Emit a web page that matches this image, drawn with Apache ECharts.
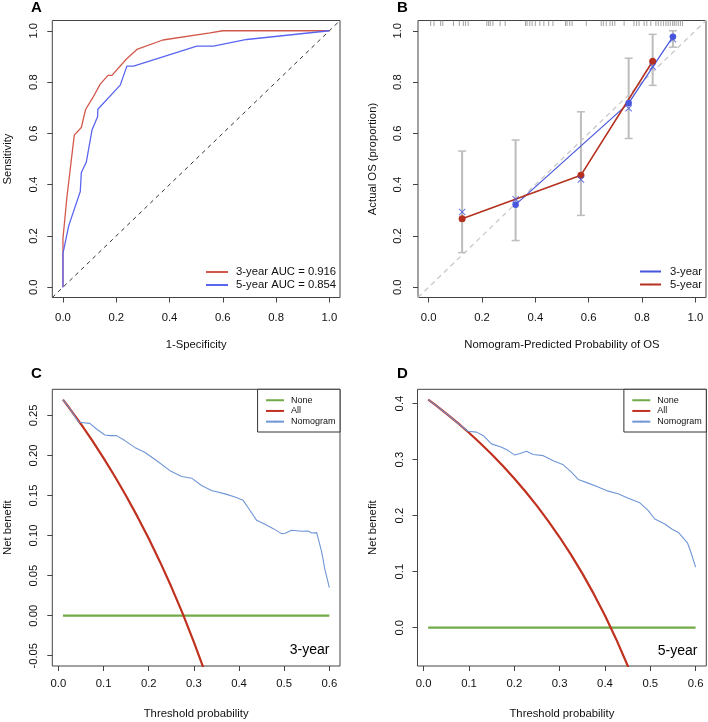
<!DOCTYPE html>
<html><head><meta charset="utf-8">
<script src="https://cdn.jsdelivr.net/npm/echarts@6/dist/echarts.min.js"></script>
<style>html,body{margin:0;padding:0;background:#fff}#c{width:708px;height:722px}</style>
</head><body><div id="c"></div>
<script>
// ---------- Panel A: ROC ----------
const rocTicks = [0, 0.2, 0.4, 0.6, 0.8, 1.0];
const roc3yr = [[0,0],[0,0.19],[0.015,0.353],[0.0425,0.593],[0.069,0.623],[0.085,0.693],[0.1125,0.74],[0.14,0.792],[0.169,0.826],[0.184,0.826],[0.2375,0.889],[0.2775,0.927],[0.375,0.964],[0.5525,0.992],[0.6,1.0],[1,1]];
const roc5yr = [[0,0],[0,0.132],[0.021,0.236],[0.024,0.247],[0.065,0.373],[0.069,0.447],[0.0875,0.487],[0.109,0.613],[0.13,0.665],[0.131,0.694],[0.215,0.788],[0.24,0.862],[0.265,0.862],[0.5025,0.94],[0.565,0.94],[0.69,0.966],[1,1]];
const rocDiag = [[-0.04,-0.04],[1.04,1.04]];
const rocNames = ['3-year AUC = 0.916', '5-year AUC = 0.854'];

// ---------- Panel B: calibration ----------
const calX3 = [0.326, 0.750, 0.916];
const calObs3 = [0.322, 0.718, 0.977];
const calCor3 = [0.343, 0.698, 0.967];
const calLo3 = [0.182, 0.580, 0.936];
const calHi3 = [0.574, 0.893, 1.000];
const calX5 = [0.1255, 0.571, 0.840];
const calObs5 = [0.2675, 0.437, 0.881];
const calCor5 = [0.2935, 0.420, 0.860];
const calLo5 = [0.135, 0.280, 0.787];
const calHi5 = [0.531, 0.684, 0.986];
const calRug = [0.0075,0.020,0.045,0.053,0.093,0.115,0.130,0.138,0.148,0.218,0.225,0.231,0.241,0.268,0.287,0.363,0.369,0.379,0.388,0.400,0.417,0.432,0.450,0.466,0.513,0.519,0.529,0.538,0.591,0.647,0.655,0.666,0.680,0.689,0.698,0.733,0.770,0.780,0.789,0.808,0.818,0.833,0.852,0.861,0.871,0.881,0.890,0.898,0.906,0.915,0.921,0.928,0.936,0.944,0.952];
const calDiag = [[-0.04,-0.04],[1.04,1.04]];

// ---------- Panels C/D: decision curves ----------
const dcaXTicks = [0, 0.1, 0.2, 0.3, 0.4, 0.5, 0.6];
const dcaYTicksC = [-0.05, 0, 0.05, 0.10, 0.15, 0.20, 0.25];
const dcaYTicksD = [0, 0.1, 0.2, 0.3, 0.4];
const noneLine = [[0.01,0],[0.6,0]];
const allT = [0.01,0.025,0.05,0.075,0.1,0.125,0.15,0.175,0.2,0.225,0.25,0.275,0.3,0.325,0.35,0.375,0.4,0.425,0.45,0.475];
const allC = [0.2697,0.2585,0.2389,0.2184,0.1967,0.1737,0.1494,0.1236,0.0962,0.0671,0.0360,0.0028,-0.0329,-0.0711,-0.1123,-0.16,-0.21,-0.26,-0.31,-0.37];
const allD = [0.4071,0.3980,0.3821,0.3654,0.3478,0.3291,0.3094,0.2885,0.2662,0.2426,0.2173,0.1903,0.1614,0.1304,0.0969,0.0608,0.0217,-0.0209,-0.0673,-0.1181];
const nomoC = [[0.01,0.2697],[0.025,0.2585],[0.045,0.2413],[0.0694,0.240],[0.0843,0.233],[0.1027,0.2255],[0.1137,0.2247],[0.1286,0.2247],[0.147,0.2185],[0.169,0.210],[0.191,0.204],[0.217,0.1936],[0.247,0.181],[0.273,0.1737],[0.295,0.1716],[0.317,0.1625],[0.339,0.1563],[0.369,0.152],[0.391,0.148],[0.409,0.1439],[0.424,0.1315],[0.439,0.119],[0.4575,0.114],[0.476,0.1086],[0.494,0.1024],[0.502,0.1029],[0.5166,0.1066],[0.539,0.1053],[0.553,0.1057],[0.561,0.1032],[0.572,0.1036],[0.583,0.0796],[0.59,0.058],[0.6,0.035]];
const nomoD = [[0.01,0.407],[0.025,0.398],[0.05,0.382],[0.075,0.365],[0.098,0.3506],[0.1166,0.349],[0.131,0.343],[0.1497,0.328],[0.172,0.322],[0.1865,0.316],[0.201,0.308],[0.2124,0.311],[0.227,0.315],[0.2417,0.309],[0.2638,0.307],[0.2859,0.298],[0.308,0.2906],[0.326,0.2775],[0.341,0.2645],[0.363,0.258],[0.385,0.251],[0.407,0.2437],[0.429,0.239],[0.4514,0.231],[0.477,0.2228],[0.4956,0.209],[0.51,0.194],[0.532,0.185],[0.549,0.1753],[0.562,0.170],[0.582,0.1515],[0.59,0.1337],[0.6,0.108]];
const dcaNames = ['None', 'All', 'Nomogram'];

// ---------- styling ----------
const FONT = "'Liberation Sans', Arial, Helvetica, sans-serif";
const FS = 11.3;
const BOX = '#444';

function xAx(g, min, max, ticks, dec, margin, name) {
  return {
    type: 'value', gridIndex: g, min: min, max: max,
    axisLine: { show: false, onZero: false },
    splitLine: { show: false },
    axisTick: { show: true, customValues: ticks, length: 5, lineStyle: { color: BOX, width: 1 } },
    axisLabel: { show: true, customValues: ticks, formatter: v => Number(v).toFixed(dec), margin: margin, fontSize: FS, color: '#111', fontFamily: FONT },
    name: name, nameLocation: 'middle', nameGap: 42,
    nameTextStyle: { fontSize: FS, color: '#111', fontFamily: FONT }
  };
}
function yAx(g, min, max, ticks, dec, margin, name, gap) {
  return {
    type: 'value', gridIndex: g, min: min, max: max,
    axisLine: { show: false, onZero: false },
    splitLine: { show: false },
    axisTick: { show: true, customValues: ticks, length: 5, lineStyle: { color: BOX, width: 1 } },
    axisLabel: { show: true, customValues: ticks, rotate: 90, formatter: v => Number(v).toFixed(dec), margin: margin, fontSize: FS, color: '#111', fontFamily: FONT },
    name: name, nameLocation: 'middle', nameGap: gap,
    nameTextStyle: { fontSize: FS, color: '#111', fontFamily: FONT }
  };
}
function pairs(xs, ys) { return xs.map((x, i) => [x, ys[i]]); }

const xMark = 'path://M0,1L1,0L5,4L9,0L10,1L6,5L10,9L9,10L5,6L1,10L0,9L4,5Z';

function errBars(xs, lo, hi, xi, yi) {
  return {
    type: 'custom', xAxisIndex: xi, yAxisIndex: yi, silent: true, z: 2,
    data: xs.map((x, i) => [x, lo[i], hi[i]]),
    encode: { x: 0, y: [1, 2] },
    renderItem: function (params, api) {
      const a = api.coord([api.value(0), api.value(1)]);
      const b = api.coord([api.value(0), api.value(2)]);
      const st = { stroke: '#BDBDBD', lineWidth: 2 };
      return { type: 'group', children: [
        { type: 'line', shape: { x1: a[0], y1: a[1], x2: b[0], y2: b[1] }, style: st },
        { type: 'line', shape: { x1: a[0] - 4, y1: a[1], x2: a[0] + 4, y2: a[1] }, style: { stroke: '#BDBDBD', lineWidth: 1.5 } },
        { type: 'line', shape: { x1: b[0] - 4, y1: b[1], x2: b[0] + 4, y2: b[1] }, style: { stroke: '#BDBDBD', lineWidth: 1.5 } }
      ] };
    }
  };
}

const RED_A = '#D2584B', BLUE_A = '#5A66F0';
const BLUE_B = '#4756DC', RED_B = '#B5301E';
const GREEN = '#72AA48', RED_D = '#C0321F', BLUE_D = '#6F96D6';

const gridBase = { show: true, borderColor: BOX, borderWidth: 1, backgroundColor: 'transparent', containLabel: false, outerBoundsMode: 'none' };

const option = {
  backgroundColor: '#fff',
  animation: false,
  textStyle: { fontFamily: FONT },
  grid: [
    Object.assign({ left: 52.3, top: 20.5, width: 287.7, height: 277 }, gridBase),
    Object.assign({ left: 418, top: 20.5, width: 288, height: 277 }, gridBase),
    Object.assign({ left: 52.3, top: 389.3, width: 287.7, height: 276.7 }, gridBase),
    Object.assign({ left: 417.5, top: 389.3, width: 288.8, height: 276.7 }, gridBase)
  ],
  xAxis: [
    xAx(0, -0.04, 1.04, rocTicks, 1, 15, '1-Specificity'),
    xAx(1, -0.04, 1.04, rocTicks, 1, 15, 'Nomogram-Predicted Probability of OS'),
    xAx(2, -0.0136, 0.6236, dcaXTicks, 1, 12, 'Threshold probability'),
    xAx(3, -0.0136, 0.6236, dcaXTicks, 1, 12, 'Threshold probability')
  ],
  yAxis: [
    yAx(0, -0.04, 1.04, rocTicks, 1, 13, 'Sensitivity', 39),
    yAx(1, -0.04, 1.04, rocTicks, 1, 14.5, 'Actual OS (proportion)', 40),
    yAx(2, -0.0628, 0.2825, dcaYTicksC, 2, 13, 'Net benefit', 39),
    yAx(3, -0.0683, 0.4254, dcaYTicksD, 1, 12.5, 'Net benefit', 39)
  ],
  legend: [
    { data: rocNames, orient: 'vertical', left: 205, top: 265.5, itemWidth: 22, itemHeight: 2, itemGap: 0, padding: 0,
      selectedMode: false, textStyle: { fontSize: FS, lineHeight: 13, color: '#111', fontFamily: FONT, padding: [0, 0, 0, 3] } },
    { data: ['3-year', '5-year'], orient: 'vertical', left: 639, top: 265, itemWidth: 21, itemHeight: 2, itemGap: 0, padding: 0,
      selectedMode: false, textStyle: { fontSize: FS, lineHeight: 13, color: '#111', fontFamily: FONT, padding: [0, 0, 0, 4] } },
    { data: dcaNames, orient: 'vertical', right: 368, top: 389.3, itemWidth: 18, itemHeight: 2, itemGap: 0, padding: [5.6, 4.5, 5, 7.4],
      borderColor: '#333', borderWidth: 1, backgroundColor: '#fff',
      selectedMode: false, textStyle: { fontSize: 9, lineHeight: 10.7, color: '#111', fontFamily: FONT, padding: [0, 0, 0, 2] } },
    { data: dcaNames, orient: 'vertical', right: 1.7, top: 389.3, itemWidth: 18, itemHeight: 2, itemGap: 0, padding: [5.6, 4.5, 5, 7.4],
      borderColor: '#333', borderWidth: 1, backgroundColor: '#fff',
      selectedMode: false, textStyle: { fontSize: 9, lineHeight: 10.7, color: '#111', fontFamily: FONT, padding: [0, 0, 0, 2] } }
  ],
  graphic: [
    { type: 'text', left: 31, top: 0, style: { text: 'A', font: 'bold 15px ' + FONT, fill: '#000' } },
    { type: 'text', left: 397, top: 0, style: { text: 'B', font: 'bold 15px ' + FONT, fill: '#000' } },
    { type: 'text', left: 31, top: 366, style: { text: 'C', font: 'bold 15px ' + FONT, fill: '#000' } },
    { type: 'text', left: 397, top: 366, style: { text: 'D', font: 'bold 15px ' + FONT, fill: '#000' } },
    { type: 'text', right: 708 - 329.5, top: 643, style: { text: '3-year', font: '14px ' + FONT, fill: '#000' } },
    { type: 'text', right: 708 - 697.5, top: 644, style: { text: '5-year', font: '14px ' + FONT, fill: '#000' } }
  ],
  series: [
    // A
    { type: 'line', name: 'diagA', xAxisIndex: 0, yAxisIndex: 0, data: rocDiag, symbol: 'none', silent: true,
      lineStyle: { color: '#333', width: 1, type: [4, 4] } },
    { type: 'line', name: rocNames[0], xAxisIndex: 0, yAxisIndex: 0, data: roc3yr, symbol: 'none', color: RED_A,
      lineStyle: { color: RED_A, width: 1.3 } },
    { type: 'line', name: rocNames[1], xAxisIndex: 0, yAxisIndex: 0, data: roc5yr, symbol: 'none', color: BLUE_A,
      lineStyle: { color: BLUE_A, width: 1.3 } },
    // B
    { type: 'line', name: 'diagB', xAxisIndex: 1, yAxisIndex: 1, data: calDiag, symbol: 'none', silent: true,
      lineStyle: { color: '#C8C8C8', width: 1.3, type: [5, 4] } },
    errBars(calX3, calLo3, calHi3, 1, 1),
    errBars(calX5, calLo5, calHi5, 1, 1),
    { type: 'line', name: '3-year', xAxisIndex: 1, yAxisIndex: 1, data: pairs(calX3, calObs3), symbol: 'circle', symbolSize: 6.5,
      showSymbol: true, color: BLUE_B, itemStyle: { color: BLUE_B }, lineStyle: { color: BLUE_B, width: 1.2 }, z: 3 },
    { type: 'line', name: '5-year', xAxisIndex: 1, yAxisIndex: 1, data: pairs(calX5, calObs5), symbol: 'circle', symbolSize: 7,
      showSymbol: true, color: RED_B, itemStyle: { color: RED_B }, lineStyle: { color: RED_B, width: 1.6 }, z: 3 },
    { type: 'scatter', name: 'corrected3', xAxisIndex: 1, yAxisIndex: 1, data: pairs(calX3, calCor3), symbol: xMark, symbolSize: 7,
      itemStyle: { color: BLUE_B }, z: 4 },
    { type: 'scatter', name: 'corrected5', xAxisIndex: 1, yAxisIndex: 1, data: pairs(calX5, calCor5), symbol: xMark, symbolSize: 7,
      itemStyle: { color: BLUE_B }, z: 4 },
    { type: 'custom', name: 'rug', xAxisIndex: 1, yAxisIndex: 1, silent: true, data: calRug.map(v => [v, 1.04]), encode: { x: 0, y: 1 },
      renderItem: function (params, api) {
        const p = api.coord([api.value(0), api.value(1)]);
        return { type: 'line', shape: { x1: p[0], y1: p[1], x2: p[0], y2: p[1] + 5.5 }, style: { stroke: '#8a8a8a', lineWidth: 1, opacity: 0.8 } };
      } },
    // C
    { type: 'line', name: 'None', xAxisIndex: 2, yAxisIndex: 2, data: noneLine, symbol: 'none', color: GREEN, lineStyle: { color: GREEN, width: 2.2 } },
    { type: 'line', name: 'All', xAxisIndex: 2, yAxisIndex: 2, data: pairs(allT, allC), symbol: 'none', color: RED_D, lineStyle: { color: RED_D, width: 2.2 } },
    { type: 'line', name: 'Nomogram', xAxisIndex: 2, yAxisIndex: 2, data: nomoC, symbol: 'none', color: BLUE_D, lineStyle: { color: BLUE_D, width: 1.1 } },
    // D
    { type: 'line', name: 'None', xAxisIndex: 3, yAxisIndex: 3, data: noneLine, symbol: 'none', color: GREEN, lineStyle: { color: GREEN, width: 2.2 } },
    { type: 'line', name: 'All', xAxisIndex: 3, yAxisIndex: 3, data: pairs(allT, allD), symbol: 'none', color: RED_D, lineStyle: { color: RED_D, width: 2.2 } },
    { type: 'line', name: 'Nomogram', xAxisIndex: 3, yAxisIndex: 3, data: nomoD, symbol: 'none', color: BLUE_D, lineStyle: { color: BLUE_D, width: 1.1 } }
  ]
};

const chart = echarts.init(document.getElementById('c'), null, { renderer: 'canvas', width: 708, height: 722 });
chart.setOption(option);
</script>
</body></html>
